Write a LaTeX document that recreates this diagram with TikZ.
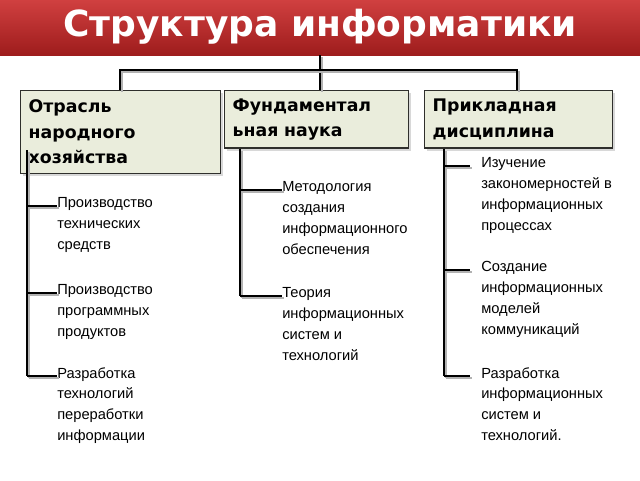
\documentclass[tikz,border=0pt]{standalone}
\usepackage{fontspec}
\setmainfont{Liberation Sans}
\newfontfamily\headfont{DejaVu Sans}
\usetikzlibrary{shadows}
\definecolor{boxfill}{HTML}{EAEDDC}
\definecolor{bannertop}{HTML}{D04040}
\definecolor{bannerbot}{HTML}{9E1C1C}
\begin{document}
\begin{tikzpicture}[x=0.75pt,y=-0.75pt]
  \tikzset{branch/.style = {draw=boxfill!20!black,fill=boxfill,line width=1pt,
      drop shadow={shadow xshift=2pt,shadow yshift=-2pt,fill=gray!60},
      anchor=north west,align=left,inner sep=4pt,
      font=\headfont\bfseries\fontsize{13}{19}\selectfont}}
  \tikzset{item/.style = {anchor=north west,align=left,inner sep=0pt,
      font=\fontsize{11}{15.7}\selectfont}}
  \tikzset{wire/.style = {line width=2pt,preaction={draw=gray!60,line width=2pt,transform canvas={shift={(1.5pt,-1.5pt)}}}}}
  \useasboundingbox (0,0) rectangle (640,480);

  \shade[top color=bannertop,bottom color=bannerbot] (0,0) rectangle (640,55);
  \node[text=white,font=\headfont\bfseries\fontsize{27}{30}\selectfont] (title) at (320,27) {Структура информатики};

\node[branch,minimum width=150pt,minimum height=62pt,text width=138pt] (trade) at (20,90) {Отрасль\\народного\\хозяйства};
\node[branch,minimum width=138pt,minimum height=43pt,text width=126pt] (basic) at (224,90) {Фундаментал\\ьная наука};
\node[branch,minimum width=141pt,minimum height=43pt,text width=129pt] (applied) at (424,90) {Прикладная\\дисциплина};

  \coordinate (hub) at (320,70);
  \draw[wire] (320,55) -- (basic.north -| hub);
  \draw[wire] (trade.north -| 120,0) |- (hub) -| (applied.north -| 517,0);

  % list items
\coordinate (t1) at (27,206); \coordinate (t2) at (27,293); \coordinate (t3) at (27,376);
\node[item] (tech) at (57,197) {Производство\\технических\\средств};
\node[item] (soft) at (57,284) {Производство\\программных\\продуктов};
\node[item] (proc) at (57,367) {Разработка\\технологий\\переработки\\информации};
  \draw[wire] (27,150) -- (t3);
  \foreach \t/\n in {t1/tech,t2/soft,t3/proc} \draw[wire] (\t) -- (\t -| \n.west) ++(-7,0);

\coordinate (m1) at (240,190); \coordinate (m2) at (240,296);
\node[item] (method) at (282,181) {Методология\\создания\\информационного\\обеспечения};
\node[item] (theory) at (282,287) {Теория\\информационных\\систем и\\технологий};
  \draw[wire] (basic.south -| m1) -- (m2);
  \foreach \t/\n in {m1/method,m2/theory} \draw[wire] (\t) -- (\t -| \n.west);

\coordinate (a1) at (444,166); \coordinate (a2) at (444,270); \coordinate (a3) at (444,376);
\node[item] (study) at (481,157) {Изучение\\закономерностей в\\информационных\\процессах};
\node[item] (model) at (481,261) {Создание\\информационных\\моделей\\коммуникаций};
\node[item] (design) at (481,367) {Разработка\\информационных\\систем и\\технологий.};
  \draw[wire] (applied.south -| a1) -- (a3);
  \foreach \t/\n in {a1/study,a2/model,a3/design} \draw[wire] (\t) -- ([xshift=-8pt]\t -| \n.west);

\end{tikzpicture}
\end{document}
